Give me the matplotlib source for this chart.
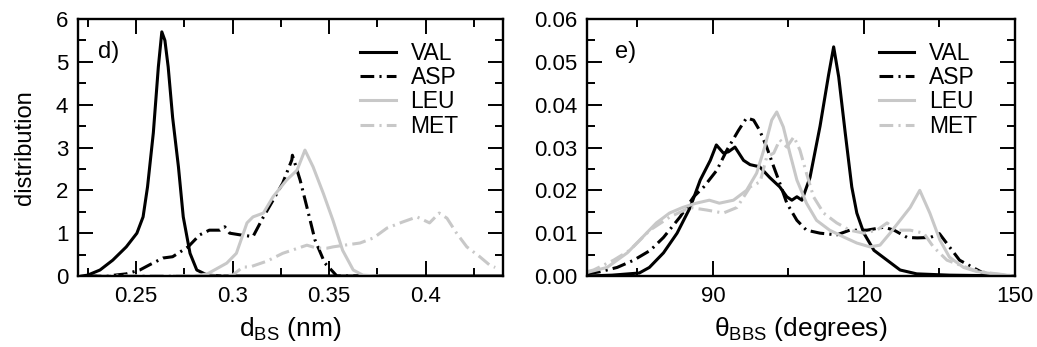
import matplotlib
matplotlib.use("Agg")
import matplotlib.pyplot as plt
from matplotlib.ticker import MultipleLocator, FormatStrFormatter

plt.rcParams['font.family'] = ['Liberation Sans', 'DejaVu Sans']
plt.rcParams['font.size'] = 16

# panel d) : distance d_BS (nm)
val_d_x = [0.222, 0.225, 0.2314, 0.238, 0.245, 0.2505, 0.2537, 0.256, 0.259, 0.2616, 0.2634,
           0.265, 0.2667, 0.269, 0.272, 0.2745, 0.278, 0.2815, 0.287, 0.295, 0.32, 0.36, 0.44]
val_d_y = [0.0, 0.02, 0.14, 0.37, 0.68, 1.0, 1.38, 2.08, 3.34, 4.88, 5.7,
           5.5, 4.88, 3.7, 2.55, 1.38, 0.53, 0.14, 0.02, 0.0, 0.0, 0.0, 0.0]

asp_d_x = [0.225, 0.235, 0.245, 0.252, 0.257, 0.264, 0.269, 0.277, 0.283, 0.288, 0.2935, 0.296,
           0.2985, 0.304, 0.3106, 0.316, 0.321, 0.326, 0.3307, 0.331, 0.335, 0.3385, 0.3427,
           0.3478, 0.352, 0.354, 0.37]
asp_d_y = [0.0, 0.0, 0.05, 0.14, 0.26, 0.42, 0.45, 0.68, 0.96, 1.07, 1.07, 1.15,
           1.0, 0.96, 0.92, 1.38, 1.77, 2.17, 2.71, 2.82, 2.24, 1.61, 0.84,
           0.30, 0.1, 0.0, 0.0]

leu_d_x = [0.27, 0.28, 0.287, 0.297, 0.302, 0.3075, 0.3106, 0.316, 0.321, 0.328, 0.3334,
           0.3375, 0.3417, 0.347, 0.352, 0.357, 0.3625, 0.3675, 0.375]
leu_d_y = [0.0, 0.0, 0.05, 0.3, 0.53, 1.24, 1.38, 1.47, 1.85, 2.24, 2.47,
           2.94, 2.55, 1.93, 1.3, 0.6, 0.14, 0.02, 0.0]

met_d_x = [0.23, 0.26, 0.28, 0.293, 0.3, 0.3054, 0.309, 0.318, 0.326, 0.3385, 0.3437, 0.349,
           0.352, 0.358, 0.366, 0.373, 0.38, 0.388, 0.3955, 0.402, 0.407, 0.411, 0.416,
           0.4213, 0.428, 0.433, 0.436]
met_d_y = [0.0, 0.01, 0.0, 0.0, 0.02, 0.21, 0.21, 0.35, 0.53, 0.72, 0.65, 0.65,
           0.68, 0.72, 0.77, 0.89, 1.12, 1.26, 1.38, 1.24, 1.47, 1.35, 1.0,
           0.68, 0.45, 0.26, 0.2]

# panel e) : angle theta_BBS (degrees)
val_e_x = [65, 70, 75.4, 77.4, 80.2, 82.9, 85.5, 87.5, 89.5, 90.7, 92.1, 93.1, 94.4, 96.1,
           97.4, 99.3, 101.3, 103.3, 104.7, 105.7, 106.7, 107.7, 109.3, 111.3, 113, 114,
           115, 116.3, 117.6, 118.6, 120, 122, 124.6, 127.2, 130.5, 137, 150]
val_e_y = [0.0, 0.0002, 0.0007, 0.002, 0.0054, 0.01, 0.016, 0.0224, 0.027, 0.0306, 0.0287,
           0.029, 0.0301, 0.027, 0.026, 0.0255, 0.023, 0.0208, 0.0185, 0.0177, 0.0185,
           0.0177, 0.023, 0.035, 0.047, 0.0535, 0.0465, 0.0334, 0.0208, 0.0147, 0.01,
           0.006, 0.0037, 0.0014, 0.0005, 0.0002, 0.0]

asp_e_x = [65, 67.6, 71, 74.3, 77.6, 80.2, 83.5, 86.2, 88.2, 90.8, 92.8, 95.1, 96.7, 98.1,
           99.3, 100.7, 102.1, 103.3, 104.7, 106.7, 108.6, 111.3, 114.6, 117.2, 120.6, 124,
           126, 128.6, 130.6, 133.2, 135, 137, 139, 141.8, 143.7, 147, 150]
asp_e_y = [0.0005, 0.001, 0.002, 0.0037, 0.006, 0.009, 0.0138, 0.0185, 0.0208, 0.0247,
           0.0294, 0.034, 0.0369, 0.0364, 0.034, 0.0301, 0.0255, 0.0217, 0.017, 0.013,
           0.0107, 0.01, 0.0096, 0.0107, 0.0107, 0.0114, 0.0107, 0.009, 0.0089, 0.009,
           0.0099, 0.0068, 0.0037, 0.0019, 0.0007, 0.0002, 0.0]

leu_e_x = [65, 65.6, 69, 73, 75.5, 78.8, 81.4, 84, 86.7, 89.3, 91.3, 94.1, 96.7, 98.7,
           100.3, 101.7, 102.7, 104, 105.3, 106.7, 108.6, 110.6, 113.2, 116, 118.6, 121.2,
           123.2, 125.2, 127.2, 129.2, 131.1, 133.1, 135.1, 137, 139.8, 142.5, 145.8, 150]
leu_e_y = [0.0008, 0.001, 0.002, 0.0054, 0.0084, 0.0124, 0.0147, 0.016, 0.017, 0.0177,
           0.017, 0.0177, 0.02, 0.024, 0.0301, 0.0364, 0.0383, 0.0348, 0.0287, 0.0224,
           0.017, 0.013, 0.0107, 0.0091, 0.0077, 0.0068, 0.0072, 0.01, 0.013, 0.016, 0.02,
           0.0147, 0.0084, 0.0044, 0.002, 0.001, 0.0005, 0.0]

met_e_x = [65, 66.3, 70.3, 73.5, 77.5, 81.5, 85.5, 88.8, 92.1, 94.8, 97.4, 99.4, 100.7,
           102.1, 103.3, 104.7, 106.1, 107.3, 108.6, 110, 112, 114.6, 117.2, 120, 122.6,
           124.6, 126.6, 129.2, 131.9, 133.8, 136.5, 139, 141.8, 145, 150]
met_e_y = [0.001, 0.0014, 0.0037, 0.006, 0.0107, 0.0138, 0.016, 0.0154, 0.0147, 0.016,
           0.0208, 0.022, 0.0278, 0.0287, 0.0318, 0.0301, 0.0325, 0.0294, 0.024, 0.0185,
           0.0147, 0.0124, 0.0107, 0.01, 0.0107, 0.0124, 0.0107, 0.0107, 0.01, 0.0068,
           0.0037, 0.0026, 0.0014, 0.0007, 0.0]

names = ['VAL', 'ASP', 'LEU', 'MET']
grey = '#c8c8c8'
colors = ['black', 'black', grey, grey]
dashdot = (0, (4.5, 1.7, 0.7, 1.7))
styles = ['-', dashdot, '-', dashdot]

fig = plt.figure(figsize=(10.37, 3.47), dpi=100)
ax1 = fig.add_axes([0.0752, 0.2046, 0.4098, 0.7406])
ax2 = fig.add_axes([0.566, 0.2046, 0.4127, 0.7406])

d_data = [(val_d_x, val_d_y), (asp_d_x, asp_d_y), (leu_d_x, leu_d_y), (met_d_x, met_d_y)]
e_data = [(val_e_x, val_e_y), (asp_e_x, asp_e_y), (leu_e_x, leu_e_y), (met_e_x, met_e_y)]

for ax, data in [(ax1, d_data), (ax2, e_data)]:
    for (xs, ys), name, c, ls in zip(data, names, colors, styles):
        ax.plot(xs, ys, color=c, linestyle=ls, linewidth=2.2, label=name)
    for side in ax.spines.values():
        side.set_linewidth(1.7)
    ax.tick_params(which='both', direction='in', top=True, right=True, width=1.4)
    ax.tick_params(which='major', length=11, pad=7)
    ax.tick_params(which='minor', length=5.5)

leg_kw = dict(loc='upper left', frameon=False, fontsize=16.5, handlelength=1.55,
              handletextpad=0.65, labelspacing=0.05, borderpad=0, borderaxespad=0)

# left panel
ax1.set_xlim(0.22, 0.44)
ax1.set_ylim(0, 6)
ax1.xaxis.set_minor_locator(MultipleLocator(0.025))
ax1.yaxis.set_major_locator(MultipleLocator(1))
ax1.yaxis.set_minor_locator(MultipleLocator(0.5))
ax1.set_xticks([0.25, 0.3, 0.35, 0.4])
ax1.set_xticklabels(['0.25', '0.3', '0.35', '0.4'])
ax1.set_xlabel('d$_{\\mathregular{BS}}$ (nm)', fontsize=19, labelpad=6)
ax1.set_ylabel('distribution', fontsize=17, labelpad=14)
ax1.text(0.047, 0.87, 'd)', transform=ax1.transAxes, va='center', ha='left', fontsize=17)
ax1.legend(bbox_to_anchor=(0.664, 0.91), **leg_kw)

# right panel
ax2.set_xlim(65, 150)
ax2.set_ylim(0, 0.06)
ax2.xaxis.set_major_locator(MultipleLocator(30))
ax2.xaxis.set_minor_locator(MultipleLocator(15))
ax2.yaxis.set_major_locator(MultipleLocator(0.01))
ax2.yaxis.set_minor_locator(MultipleLocator(0.005))
ax2.yaxis.set_major_formatter(FormatStrFormatter('%.2f'))
ax2.set_xlabel('θ$_{\\mathregular{BBS}}$ (degrees)', fontsize=19, labelpad=6)
ax2.text(0.065, 0.87, 'e)', transform=ax2.transAxes, va='center', ha='left', fontsize=17)
ax2.legend(bbox_to_anchor=(0.682, 0.91), **leg_kw)

fig.savefig('out.png', dpi=100)
